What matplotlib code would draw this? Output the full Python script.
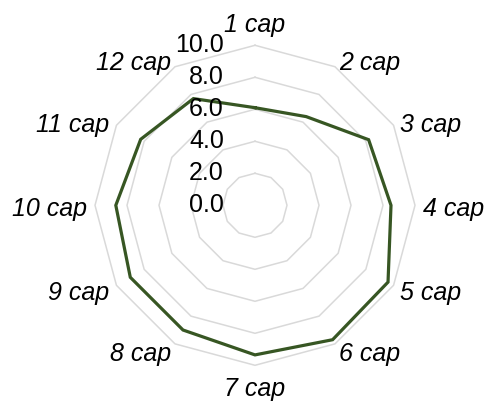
import numpy as np
import matplotlib
matplotlib.use("Agg")
import matplotlib.pyplot as plt
import matplotlib.transforms as mtransforms

categories = ["1 cap", "2 cap", "3 cap", "4 cap", "5 cap", "6 cap",
              "7 cap", "8 cap", "9 cap", "10 cap", "11 cap", "12 cap"]
values = [6.1, 6.4, 8.2, 8.5, 9.6, 9.7, 9.35, 9.0, 9.0, 8.7, 8.25, 7.7]
tick_values = [0, 2, 4, 6, 8, 10]
tick_labels = ["0.0", "2.0", "4.0", "6.0", "8.0", "10.0"]

plt.rcParams['font.family'] = ['Liberation Sans', 'DejaVu Sans']

W, H = 489, 401
fig = plt.figure(figsize=(W / 100, H / 100), dpi=100)
cx, cy, R = 255, 205.3, 160
ax = fig.add_axes([(cx - R) / W, (H - cy - R) / H, 2 * R / W, 2 * R / H],
                  projection='polar')
ax.set_theta_zero_location('N')
ax.set_theta_direction(-1)
ax.set_ylim(0, 10)
ax.spines['polar'].set_visible(False)
ax.set_xticks([])
ax.set_yticks([])
ax.grid(False)
ax.patch.set_alpha(0)

n = len(categories)
theta = np.arange(n) * 2 * np.pi / n
theta_c = np.append(theta, theta[0])

# polygon gridlines
for tv in tick_values[1:]:
    ax.plot(theta_c, [tv] * (n + 1), color='#D9D9D9', lw=1.1, zorder=1,
            clip_on=False)

vals_c = values + [values[0]]
ax.plot(theta_c, vals_c, color='#375623', lw=2.3, zorder=3, clip_on=False,
        solid_joinstyle='miter')

# radial tick labels
tick_tr = mtransforms.offset_copy(ax.transData, fig=fig, x=-31, y=0, units='dots')
for tv, tl in zip(tick_values, tick_labels):
    ax.text(0, tv, tl, transform=tick_tr, ha='right', va='center',
            fontsize=18, color='black')

# category labels
lab_tr = mtransforms.offset_copy(ax.transData, fig=fig, x=0, y=-3.5, units='dots')
r_lab = 168 / R * 10
for t, c in zip(theta, categories):
    s, co = np.sin(t), np.cos(t)
    ha = 'left' if s > 0.01 else ('right' if s < -0.01 else 'center')
    if abs(s) < 0.01:
        va = 'bottom' if co > 0 else 'top'
        r = (172 if co > 0 else 168) / R * 10
    else:
        va = 'center'
        r = r_lab
    ax.text(t, r, c, transform=lab_tr, ha=ha, va=va, fontsize=18,
            style='italic', color='black', clip_on=False)

fig.savefig("out.png", dpi=100)
